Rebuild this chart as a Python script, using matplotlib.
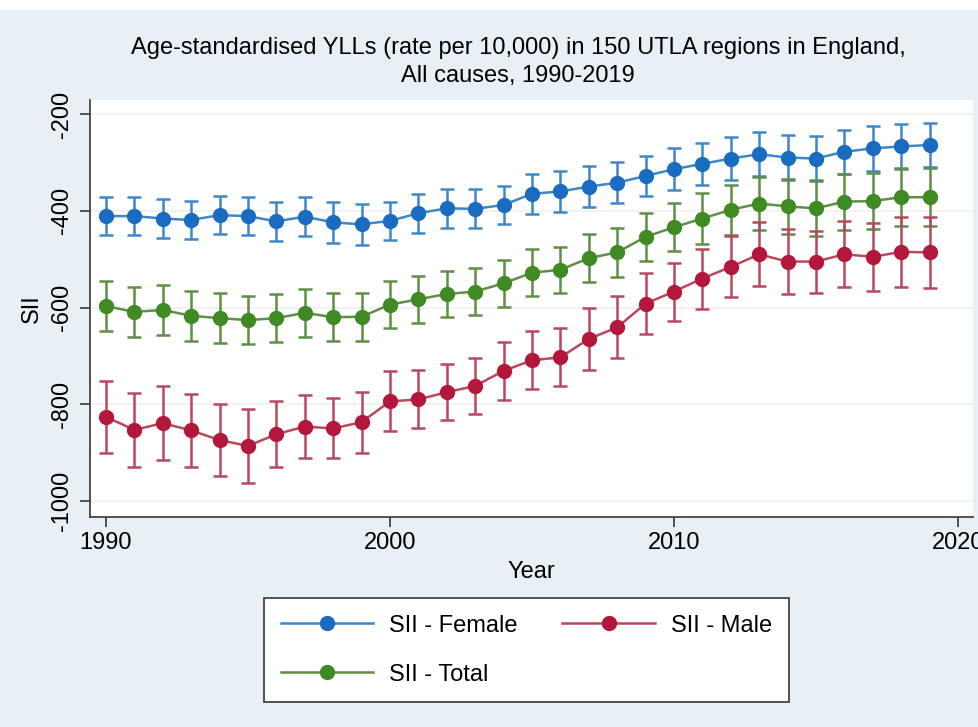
import matplotlib
matplotlib.use('Agg')
import matplotlib.pyplot as plt
from matplotlib.patches import Rectangle

years = list(range(1990, 2020))

female = [-411, -411, -416, -419, -409, -411, -422, -412, -424, -428,
          -421, -405, -395, -396, -388, -365, -360, -350, -342, -328,
          -314, -303, -292, -283, -290, -292, -278, -271, -267, -264]
female_ci = [39, 40, 40, 40, 40, 39, 40, 40, 42, 42,
             40, 40, 40, 40, 40, 42, 42, 42, 42, 42,
             43, 44, 44, 46, 46, 46, 46, 46, 46, 45]

male = [-826, -853, -839, -854, -874, -886, -862, -846, -850, -837,
        -794, -790, -775, -762, -731, -709, -703, -665, -641, -592,
        -567, -540, -516, -490, -505, -505, -490, -495, -485, -486]
male_ci = [75, 76, 76, 76, 75, 76, 68, 66, 62, 63,
           62, 60, 58, 58, 60, 60, 60, 64, 64, 63,
           60, 62, 63, 66, 68, 64, 68, 70, 72, 73]

total = [-597, -609, -605, -617, -622, -626, -622, -611, -620, -619,
         -594, -583, -572, -567, -550, -528, -522, -498, -486, -454,
         -434, -416, -398, -385, -391, -395, -381, -380, -372, -372]
total_ci = [52, 52, 52, 52, 52, 50, 50, 50, 50, 50,
            48, 48, 48, 48, 48, 48, 48, 50, 50, 50,
            50, 52, 52, 55, 56, 58, 58, 58, 60, 60]

series = [
    ('SII - Female', female, female_ci, '#1a6cc0', '#3f86c9'),
    ('SII - Total', total, total_ci, '#3f8a22', '#5f8f45'),
    ('SII - Male', male, male_ci, '#b3173a', '#b8485f'),
]

plt.rcParams['font.family'] = ['Liberation Sans', 'DejaVu Sans']
plt.rcParams['axes.unicode_minus'] = False

FS = 17

fig = plt.figure(figsize=(9.79, 7.27), dpi=100)
fig.patch.set_facecolor('#e8f0f5')
fig.patches.append(Rectangle((0, 1 - 10 / 727), 1, 10 / 727, transform=fig.transFigure,
                             facecolor='white', edgecolor='none', zorder=0))

ax = fig.add_axes([90 / 979, 1 - 517 / 727, (973 - 90) / 979, (517 - 100) / 727])
ax.set_facecolor('white')

handles = []
for name, vals, ci, col, ecol in series:
    ax.errorbar(years, vals, yerr=ci, fmt='none', ecolor=ecol, elinewidth=1.8,
                capsize=5, capthick=1.8, zorder=2)
    h, = ax.plot(years, vals, '-o', color=ecol, lw=1.8, markersize=10,
                 markerfacecolor=col, markeredgecolor=col, zorder=3, label=name)
    handles.append(h)

ax.set_xlim(1989.44, 2020.53)
ax.set_ylim(-1033, -171)
ax.set_xticks([1990, 2000, 2010, 2020])
ax.set_yticks([-1000, -800, -600, -400, -200])
ax.grid(axis='y', color='#f0f0f0', lw=1.2)
ax.set_axisbelow(True)

for s in ['top', 'right']:
    ax.spines[s].set_visible(False)
for s in ['left', 'bottom']:
    ax.spines[s].set_color('#444444')
    ax.spines[s].set_linewidth(1.3)

ax.tick_params(axis='both', labelsize=FS, colors='#444444', labelcolor='black',
               length=7, width=1.3)
ax.tick_params(axis='y', pad=5)
for lab in ax.get_yticklabels():
    lab.set_rotation(90)
    lab.set_va('center')

ax.set_xlabel('Year', fontsize=FS, labelpad=5)
ax.set_ylabel('SII', fontsize=FS, labelpad=6)

fig.text(518 / 979, 1 - 62 / 727,
         'Age-standardised YLLs (rate per 10,000) in 150 UTLA regions in England,\nAll causes, 1990-2019',
         ha='center', va='center', fontsize=FS, linespacing=1.35)

leg = fig.legend(handles=handles, loc='upper left', bbox_to_anchor=(264 / 979, 1 - 598 / 727),
                 ncol=2, fontsize=FS, handlelength=3.9, handletextpad=0.7, labelspacing=1.15,
                 columnspacing=1.9, borderpad=0.7, borderaxespad=0,
                 fancybox=False, edgecolor='#444444', framealpha=1)
leg.get_frame().set_linewidth(1.3)

fig.savefig('out.png', dpi=100, facecolor=fig.get_facecolor())
